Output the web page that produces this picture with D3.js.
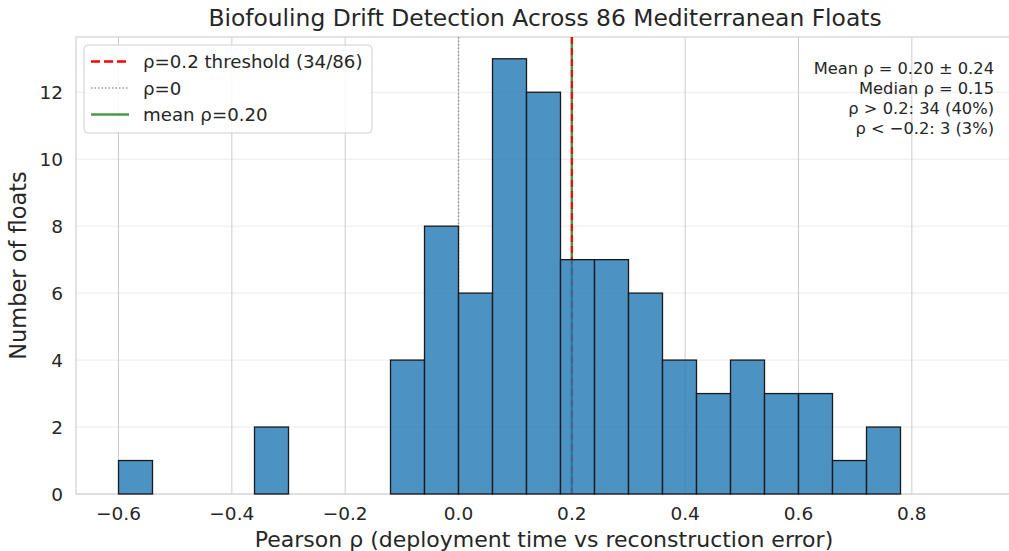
<html>
<head>
<meta charset="utf-8">
<script src="https://d3js.org/d3.v7.min.js"></script>
<style>
  body { margin: 0; background: white; }
  text { font-family: "DejaVu Sans", sans-serif; fill: #262626; }
</style>
</head>
<body>
<svg id="chart" width="1009" height="551"></svg>
<script>
// histogram bins (left edges) and counts
const binStarts = [-0.60, -0.54, -0.48, -0.42, -0.36, -0.30, -0.24, -0.18, -0.12, -0.06,
                   0.00, 0.06, 0.12, 0.18, 0.24, 0.30, 0.36, 0.42, 0.48, 0.54,
                   0.60, 0.66, 0.72, 0.78, 0.84];
const binWidth = 0.06;
const counts = [1, 0, 0, 0, 2, 0, 0, 0, 4, 8,
                6, 13, 12, 7, 7, 6, 4, 3, 4, 3,
                3, 1, 2, 0, 0];
const xTicks = [-0.6, -0.4, -0.2, 0.0, 0.2, 0.4, 0.6, 0.8];
const yTicks = [0, 2, 4, 6, 8, 10, 12];
const threshold = 0.2;
const meanRho = 0.20;
const statsLines = ["Mean \u03c1 = 0.20 \u00b1 0.24", "Median \u03c1 = 0.15",
                    "\u03c1 > 0.2: 34 (40%)", "\u03c1 < \u22120.2: 3 (3%)"];
const legendItems = [
  {label: "\u03c1=0.2 threshold (34/86)", color: "red", dash: "9,4", width: 2.5},
  {label: "\u03c1=0", color: "#999", dash: "1.5,2", width: 1.5},
  {label: "mean \u03c1=0.20", color: "#4a9a4a", dash: null, width: 2.5}
];

const svg = d3.select("#chart");
const pLeft = 76, pRight = 1011, pTop = 37, pBottom = 494;

const x = d3.scaleLinear().domain([-0.675, 0.975]).range([pLeft, pRight]);
const y = d3.scaleLinear().domain([0, 13.65]).range([pBottom, pTop]);

// grid
svg.append("g").selectAll("line").data(yTicks).enter().append("line")
  .attr("x1", pLeft).attr("x2", pRight)
  .attr("y1", d => y(d)).attr("y2", d => y(d))
  .attr("stroke", "#ebebeb").attr("stroke-width", 1);
svg.append("g").selectAll("line").data(xTicks).enter().append("line")
  .attr("x1", d => x(d)).attr("x2", d => x(d))
  .attr("y1", pTop).attr("y2", pBottom)
  .attr("stroke", "#cccccc").attr("stroke-width", 1);

// spines
svg.append("rect").attr("x", pLeft).attr("y", pTop)
  .attr("width", pRight - pLeft).attr("height", pBottom - pTop)
  .attr("fill", "none").attr("stroke", "#d0d0d0").attr("stroke-width", 1.2);

// reference lines (behind bars)
svg.append("line").attr("x1", x(0)).attr("x2", x(0)).attr("y1", pTop).attr("y2", pBottom)
  .attr("stroke", "#999").attr("stroke-width", 1.5).attr("stroke-dasharray", "1.5,2");
svg.append("line").attr("x1", x(meanRho)).attr("x2", x(meanRho)).attr("y1", pTop).attr("y2", pBottom)
  .attr("stroke", "#4a9a4a").attr("stroke-width", 2.5);
svg.append("line").attr("x1", x(threshold)).attr("x2", x(threshold)).attr("y1", pTop).attr("y2", pBottom)
  .attr("stroke", "red").attr("stroke-width", 2).attr("stroke-dasharray", "7,4");

// bars
svg.append("g").selectAll("rect").data(counts).enter().append("rect")
  .attr("x", (d, i) => x(binStarts[i]))
  .attr("width", (d, i) => x(binStarts[i] + binWidth) - x(binStarts[i]))
  .attr("y", d => y(d))
  .attr("height", d => y(0) - y(d))
  .attr("fill", "#1f77b4").attr("fill-opacity", 0.8)
  .attr("stroke", "#1a1a1a").attr("stroke-width", 1.3);

// axes tick labels
svg.append("g").selectAll("text").data(xTicks).enter().append("text")
  .attr("x", d => x(d)).attr("y", 520)
  .attr("text-anchor", "middle").attr("font-size", 18.5)
  .text(d => d3.format(".1f")(d));
svg.append("g").selectAll("text").data(yTicks).enter().append("text")
  .attr("x", 63).attr("y", d => y(d) + 6.5)
  .attr("text-anchor", "end").attr("font-size", 18.5)
  .text(d => d);

// axis labels and title
svg.append("text").attr("x", 544).attr("y", 547).attr("text-anchor", "middle")
  .attr("font-size", 22).text("Pearson \u03c1 (deployment time vs reconstruction error)");
svg.append("text").attr("transform", "translate(26," + ((pTop + pBottom) / 2) + ") rotate(-90)")
  .attr("text-anchor", "middle").attr("font-size", 22.5).text("Number of floats");
svg.append("text").attr("x", 545).attr("y", 26).attr("text-anchor", "middle")
  .attr("font-size", 23.4).text("Biofouling Drift Detection Across 86 Mediterranean Floats");

// legend
const lg = svg.append("g");
lg.append("rect").attr("x", 84).attr("y", 45).attr("width", 288).attr("height", 88)
  .attr("rx", 4).attr("fill", "white").attr("fill-opacity", 0.85)
  .attr("stroke", "#d0d0d0").attr("stroke-width", 1);
legendItems.forEach((d, i) => {
  const yy = 61.5 + i * 26.5;
  lg.append("line").attr("x1", 91).attr("x2", 129).attr("y1", yy).attr("y2", yy)
    .attr("stroke", d.color).attr("stroke-width", d.width)
    .attr("stroke-dasharray", d.dash);
  lg.append("text").attr("x", 143).attr("y", yy + 6.5).attr("font-size", 18.2).text(d.label);
});

// stats box
statsLines.forEach((t, i) => {
  svg.append("text").attr("x", 994).attr("y", 74 + i * 20)
    .attr("text-anchor", "end").attr("font-size", 16.3).text(t);
});
</script>
</body>
</html>
